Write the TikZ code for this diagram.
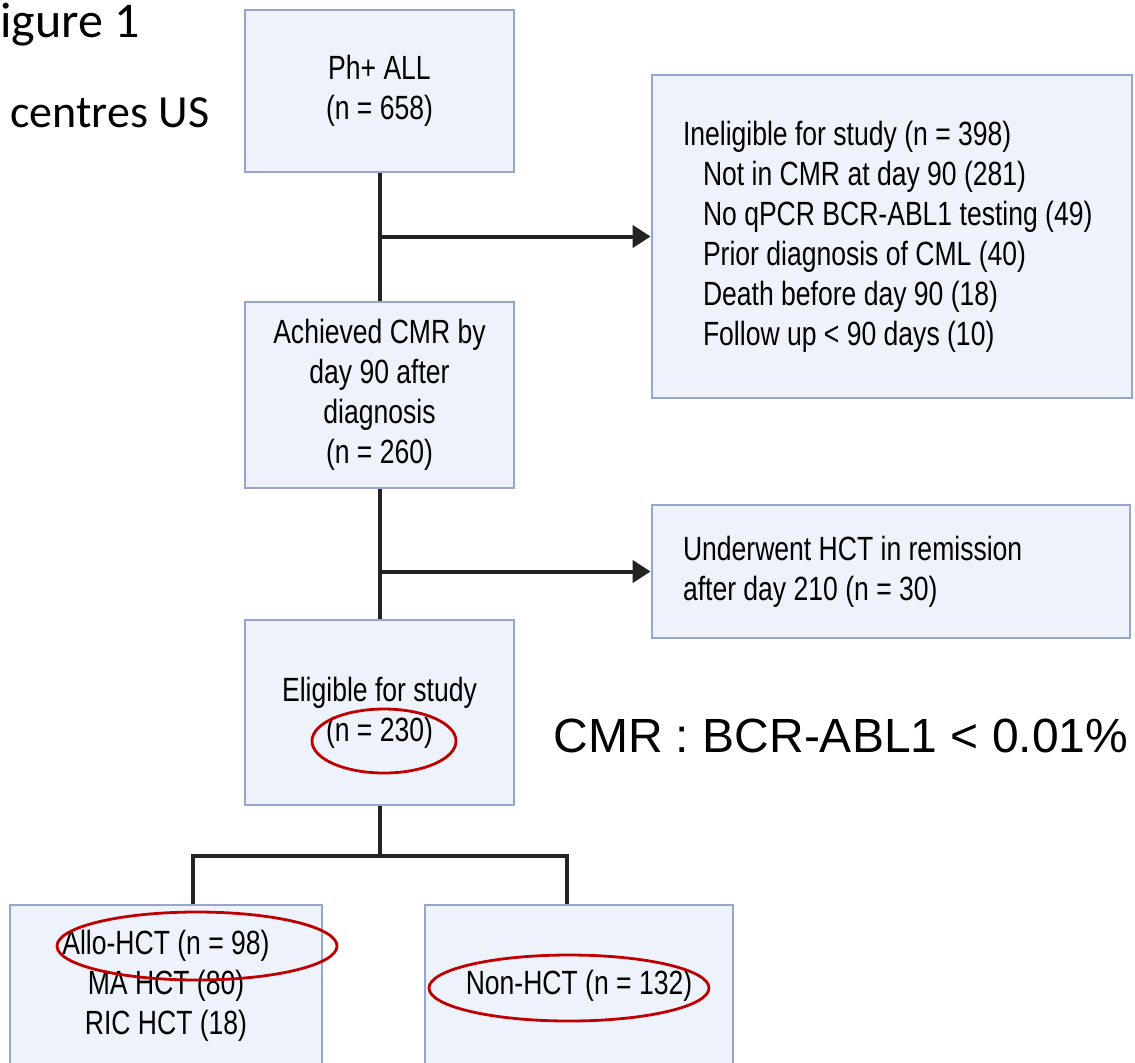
\documentclass[tikz,border=0pt]{standalone}
\usepackage{fontspec}
\usepackage{tikz}
\usetikzlibrary{arrows.meta}
\newfontfamily\boxfont[FakeStretch=0.79]{Liberation Sans}
\newfontfamily\calfont{Carlito}
\newfontfamily\arialfont{Liberation Sans}
\definecolor{boxedge}{RGB}{150,166,206}
\definecolor{boxfill}{RGB}{238,243,251}
\definecolor{linkgray}{RGB}{35,35,35}
\definecolor{ringred}{RGB}{192,0,0}
\tikzstyle{stage} = [rectangle, minimum width=134.5pt, align=center,
    draw=boxedge, fill=boxfill, line width=1.4pt, font={\boxfont\fontsize{16.8}{20}\selectfont}]
\tikzstyle{sidebox} = [rectangle, align=flush left, inner xsep=15.5pt,
    draw=boxedge, fill=boxfill, line width=1.4pt, font={\boxfont\fontsize{16.8}{20}\selectfont}]
\tikzstyle{link} = [draw=linkgray, line width=2pt]
\tikzstyle{arrow} = [link, -{Triangle[length=9pt,width=11pt]}]
\tikzstyle{redring} = [draw=ringred, line width=1.4pt]

\begin{document}
\begin{tikzpicture}[x=0.5pt, y=-0.5pt]
                \useasboundingbox (0,0) rectangle (1135,1062);
                \node (fig) [anchor=base west, inner sep=0, font={\calfont\fontsize{25}{30}\selectfont}] at (0,37) {igure 1};
                \node (centres) [anchor=base west, inner sep=0, font={\calfont\fontsize{23}{27}\selectfont}] at (10,127) {centres US};
                \node (ph) [stage, minimum height=81pt] at (379.5,91) {Ph+ ALL\\(n = 658)};
                \node (inel) [sidebox, text width=209pt, minimum height=161.5pt] at (892,236.5) {Ineligible for study (n = 398)\\
                    \hspace*{10pt}Not in CMR at day 90 (281)\\
                    \hspace*{10pt}No qPCR BCR-ABL1 testing (49)\\
                    \hspace*{10pt}Prior diagnosis of CML (40)\\
                    \hspace*{10pt}Death before day 90 (18)\\
                    \hspace*{10pt}Follow up < 90 days (10)};
                \node (cmr) [stage, minimum height=93pt] at (379.5,395) {Achieved CMR by\\day 90 after\\diagnosis\\(n = 260)};
                \node (hct) [sidebox, text width=208pt, minimum height=66.5pt] at (891,571.5) {Underwent HCT in remission\\after day 210 (n = 30)};
                \node (elig) [stage, minimum height=92.5pt] at (379.5,712.5) {Eligible for study\\(n = 230)};
                \node (cmrdef) [anchor=base west, inner sep=0, font={\arialfont\fontsize{24}{28}\selectfont}] at (553,752) {CMR : BCR-ABL1 < 0.01\%};
                \node (allo) [stage, minimum width=156pt, minimum height=80.5pt] at (166,985.5) {Allo-HCT (n = 98)\\MA HCT (80)\\RIC HCT (18)};
                \node (nonhct) [stage, minimum width=154pt, minimum height=80.5pt] at (579,985.5) {Non-HCT (n = 132)};
                \draw [link] (ph.south) -- (cmr.north);
                \draw [arrow] (ph.south |- inel.west) -- (inel.west);
                \draw [link] (cmr.south) -- (elig.north);
                \draw [arrow] (cmr.south |- hct.west) -- (hct.west);
                \draw [link] (elig.south) -- ++(0,50) coordinate (split);
                \draw [link] ([xshift=13.5pt]allo.north) |- (split) -| ([xshift=-6pt]nonhct.north);
                \draw [redring] (384,741) ellipse [x radius=36pt, y radius=16pt];
                \draw [redring] (197,946) ellipse [x radius=70pt, y radius=17pt];
                \draw [redring] (569,988) ellipse [x radius=70pt, y radius=16.5pt];
            \end{tikzpicture}
\end{document}
